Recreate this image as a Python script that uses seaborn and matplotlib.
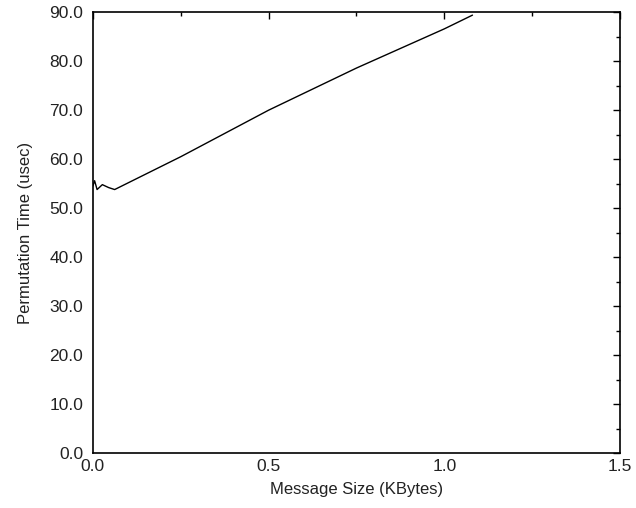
import matplotlib
matplotlib.use("Agg")
import matplotlib.pyplot as plt
import seaborn as sns
import pandas as pd
from matplotlib.ticker import MultipleLocator, FormatStrFormatter

# message size (KBytes) vs permutation time (usec)
msg_size = [0.0, 0.005, 0.012, 0.027, 0.045, 0.062, 0.25, 0.5, 0.75, 1.0, 1.08]
perm_time = [54.5, 55.6, 53.8, 54.8, 54.2, 53.8, 60.5, 70.0, 78.6, 86.6, 89.4]

df = pd.DataFrame({"size": msg_size, "time": perm_time})

sns.set_theme(style="white")
plt.rcParams["font.family"] = ["Liberation Sans", "DejaVu Sans"]

fig = plt.figure(figsize=(6.36, 5.08), dpi=100)
ax = fig.add_axes([0.146, 0.108, 0.829, 0.868])

sns.lineplot(data=df, x="size", y="time", ax=ax, color="black", linewidth=1.0)

ax.set_xlim(0, 1.5)
ax.set_ylim(0, 90)
ax.xaxis.set_major_locator(MultipleLocator(0.5))
ax.xaxis.set_minor_locator(MultipleLocator(0.25))
ax.yaxis.set_major_locator(MultipleLocator(10))
ax.yaxis.set_minor_locator(MultipleLocator(5))
ax.xaxis.set_major_formatter(FormatStrFormatter("%.1f"))
ax.yaxis.set_major_formatter(FormatStrFormatter("%.1f"))

ax.tick_params(which="both", direction="in", top=True, right=True,
               labelsize=12.5, color="black", labelcolor="#222222")
ax.tick_params(which="major", length=5, width=1)
ax.tick_params(which="minor", length=3, width=1)
ax.tick_params(axis="x", pad=4)
ax.tick_params(axis="y", pad=7)

for s in ax.spines.values():
    s.set_color("black")
    s.set_linewidth(1.2)

ax.set_xlabel("Message Size (KBytes)", fontsize=12, color="#222222", labelpad=6)
ax.set_ylabel("Permutation Time (usec)", fontsize=12, color="#222222", labelpad=12)

fig.savefig("out.png", dpi=100)
